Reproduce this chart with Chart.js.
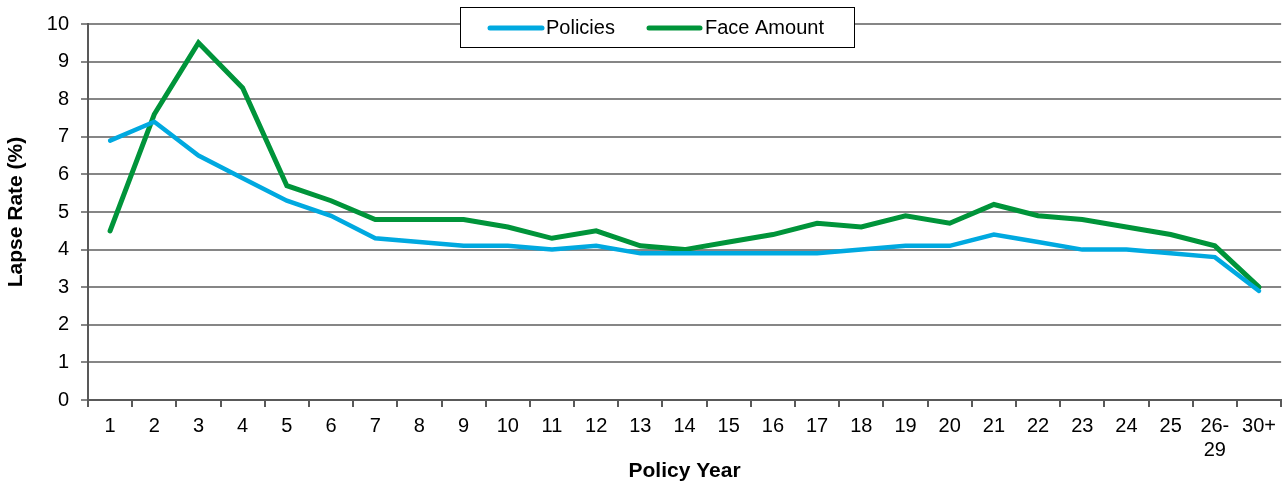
<!DOCTYPE html>
<html>
<head>
<meta charset="utf-8">
<script src="https://cdn.jsdelivr.net/npm/chart.js@4.4.0/dist/chart.umd.min.js"></script>
<style>
  html, body { margin: 0; padding: 0; background: #fff; }
  #wrap { width: 1283px; height: 484px; }
</style>
</head>
<body>
<div id="wrap"><canvas id="lapseChart" width="1283" height="484"></canvas></div>
<script>
// policy year buckets
const years = ['1','2','3','4','5','6','7','8','9','10','11','12','13','14','15','16','17','18','19','20','21','22','23','24','25',['26-','29'],'30+'];

// lapse rates (%)
const policies   = [6.9, 7.4, 6.5, 5.9, 5.3, 4.9, 4.3, 4.2, 4.1, 4.1, 4.0, 4.1, 3.9, 3.9, 3.9, 3.9, 3.9, 4.0, 4.1, 4.1, 4.4, 4.2, 4.0, 4.0, 3.9, 3.8, 2.9];
const faceAmount = [4.5, 7.6, 9.5, 8.3, 5.7, 5.3, 4.8, 4.8, 4.8, 4.6, 4.3, 4.5, 4.1, 4.0, 4.2, 4.4, 4.7, 4.6, 4.9, 4.7, 5.2, 4.9, 4.8, 4.6, 4.4, 4.1, 3.0];

const yTicks = [0, 1, 2, 3, 4, 5, 6, 7, 8, 9, 10];

const BLUE = '#00A9E0';
const GREEN = '#00943A';
const FONT = '"Liberation Sans", Arial, sans-serif';

// legend box drawn inside the plot, on top of the 10% gridline
const boxLegend = {
  id: 'boxLegend',
  afterDraw(chart) {
    const ctx = chart.ctx;
    ctx.save();
    ctx.fillStyle = '#fff';
    ctx.fillRect(460, 7, 394, 40);
    ctx.strokeStyle = '#000';
    ctx.lineWidth = 1;
    ctx.strokeRect(460.5, 7.5, 394, 40);

    const items = [
      { x1: 490, x2: 542, tx: 546, color: chart.data.datasets[0].borderColor, text: chart.data.datasets[0].label },
      { x1: 649, x2: 700, tx: 705, color: chart.data.datasets[1].borderColor, text: chart.data.datasets[1].label }
    ];
    ctx.font = '20px ' + FONT;
    ctx.textBaseline = 'middle';
    ctx.lineCap = 'round';
    items.forEach(function (it) {
      ctx.strokeStyle = it.color;
      ctx.lineWidth = 5;
      ctx.beginPath();
      ctx.moveTo(it.x1, 28);
      ctx.lineTo(it.x2, 28);
      ctx.stroke();
      ctx.fillStyle = '#000';
      ctx.fillText(it.text, it.tx, 28);
    });
    ctx.restore();
  }
};

new Chart(document.getElementById('lapseChart'), {
  type: 'line',
  data: {
    labels: years,
    datasets: [
      {
        label: 'Policies',
        data: policies,
        borderColor: BLUE,
        backgroundColor: BLUE,
        borderWidth: 4.5,
        pointRadius: 0,
        tension: 0,
        borderCapStyle: 'round',
        borderJoinStyle: 'miter'
      },
      {
        label: 'Face Amount',
        data: faceAmount,
        borderColor: GREEN,
        backgroundColor: GREEN,
        borderWidth: 5,
        pointRadius: 0,
        tension: 0,
        borderCapStyle: 'round',
        borderJoinStyle: 'miter'
      }
    ]
  },
  options: {
    responsive: false,
    animation: false,
    layout: { padding: { top: 24, right: 1, left: 0, bottom: 0 } },
    plugins: {
      legend: { display: false },
      tooltip: { enabled: false }
    },
    scales: {
      x: {
        offset: true,
        grid: {
          offset: true,
          drawOnChartArea: false,
          drawTicks: true,
          tickLength: 7,
          color: '#595959',
          lineWidth: 2
        },
        border: { display: true, color: '#595959', width: 2 },
        ticks: {
          color: '#000',
          font: { family: FONT, size: 20, lineHeight: 1.2 },
          padding: 7,
          maxRotation: 0,
          autoSkip: false
        },
        title: {
          display: true,
          text: 'Policy Year',
          color: '#000',
          font: { family: FONT, size: 21, weight: 'bold' },
          padding: { top: 0, bottom: 0 }
        },
        afterFit(scale) { scale.height = 84; }
      },
      y: {
        min: 0,
        max: 10,
        afterBuildTicks(scale) { scale.ticks = yTicks.map(v => ({ value: v })); },
        grid: {
          color: '#868686',
          lineWidth: 2,
          tickLength: 7,
          drawTicks: true
        },
        border: { display: true, color: '#595959', width: 2 },
        ticks: {
          color: '#000',
          font: { family: FONT, size: 20 },
          padding: 12
        },
        title: {
          display: true,
          text: 'Lapse Rate (%)',
          color: '#000',
          font: { family: FONT, size: 21, weight: 'bold' },
          padding: { top: 4, bottom: 0 }
        },
        afterFit(scale) { scale.width = 88; }
      }
    }
  },
  plugins: [boxLegend]
});
</script>
</body>
</html>
